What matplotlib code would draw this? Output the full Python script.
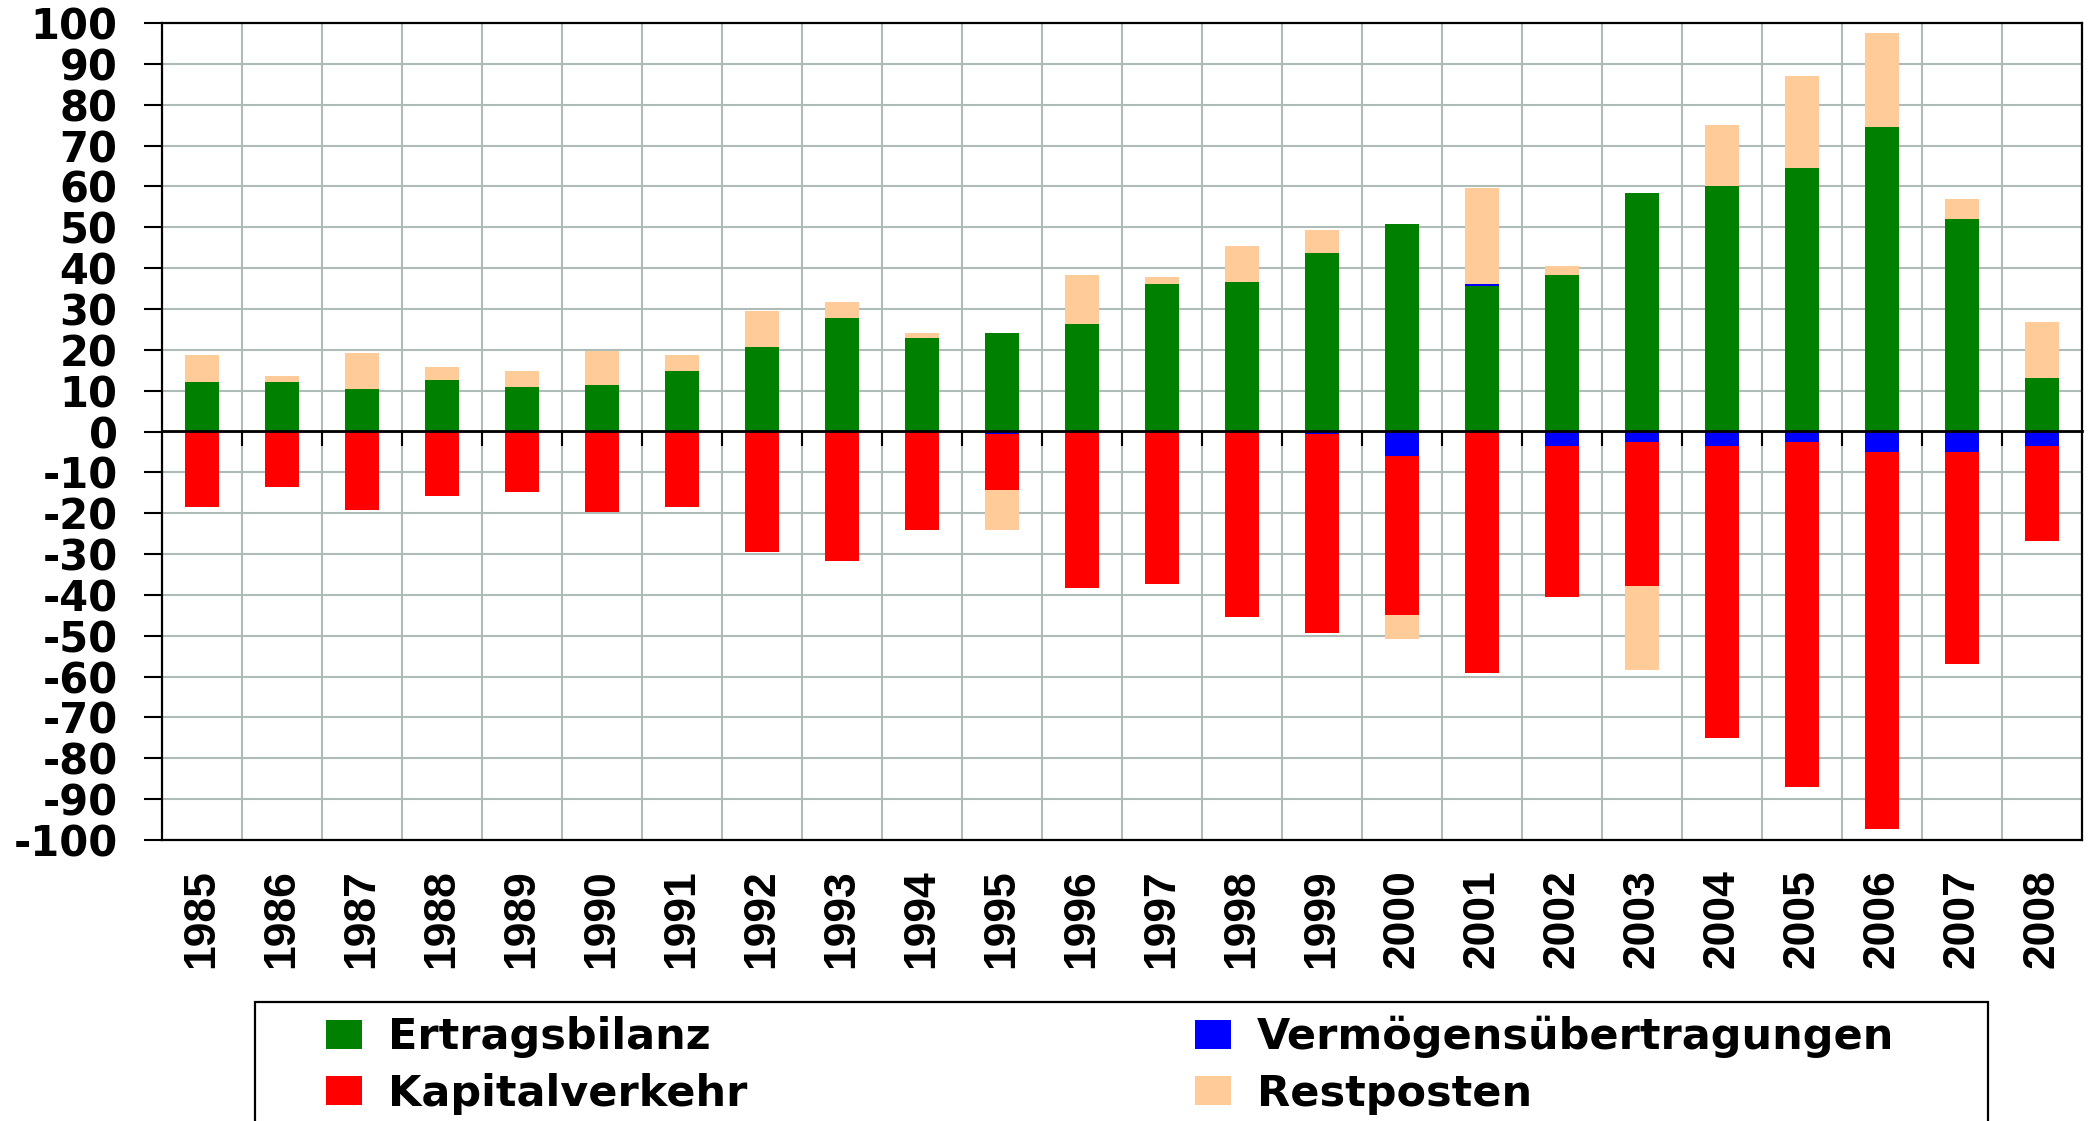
import matplotlib
matplotlib.use("Agg")
import matplotlib.pyplot as plt
from matplotlib.patches import Patch, Rectangle
import numpy as np

plt.rcParams["font.family"] = ["Liberation Sans", "DejaVu Sans"]
plt.rcParams["font.weight"] = "bold"

years = [str(y) for y in range(1985, 2009)]

# Mrd. CHF, Werte
ertragsbilanz = [12.2, 12.0, 10.5, 12.5, 11.0, 11.5, 14.7, 20.6, 27.9, 23.0, 24.2, 26.4,
                 36.0, 36.5, 43.8, 50.9, 35.5, 38.4, 58.5, 60.2, 64.6, 74.6, 52.1, 13.2]
vermoegen = [0, 0, 0, 0, 0, 0, 0, 0, 0, 0, -0.7, 0,
             0, 0, -0.7, -6.0, 0.5, -3.6, -2.6, -3.6, -2.6, -5.1, -5.1, -3.6]
kapitalverkehr = [-18.6, -13.7, -19.1, -15.7, -14.7, -19.6, -18.6, -29.6, -31.6, -24.0, -13.7, -38.4,
                  -37.4, -45.5, -48.7, -38.8, -59.2, -36.8, -35.1, -71.5, -84.5, -92.3, -51.7, -23.1]
restposten = [6.6, 1.7, 8.6, 3.2, 3.7, 8.1, 4.1, 9.0, 3.7, 1.2, -9.6, 12.0,
              1.7, 9.0, 5.6, -6.1, 23.5, 2.2, -20.6, 14.9, 22.5, 23.0, 4.7, 13.5]

y_ticks = list(range(-100, 101, 10))

series = [
    ("Ertragsbilanz", ertragsbilanz, "#008000"),
    ("Vermögensübertragungen", vermoegen, "#0000ff"),
    ("Kapitalverkehr", kapitalverkehr, "#ff0000"),
    ("Restposten", restposten, "#ffcc99"),
]

W, H = 2090, 1121
fig = plt.figure(figsize=(W / 100, H / 100), dpi=100)
ax = fig.add_axes([162 / W, 1 - 840 / H, (2082 - 162) / W, (840 - 23) / H])

x = np.arange(len(years))
pos_bottom = np.zeros(len(years))
neg_bottom = np.zeros(len(years))
for name, vals, color in series:
    v = np.array(vals, dtype=float)
    bottom = np.where(v >= 0, pos_bottom, neg_bottom)
    ax.bar(x, v, 0.42, bottom=bottom, color=color, zorder=3, linewidth=0)
    pos_bottom += np.clip(v, 0, None)
    neg_bottom += np.clip(v, None, 0)

grid_color = "#adbcb6"
ax.set_xlim(-0.5, len(years) - 0.5)
ax.set_ylim(-100, 100)
ax.set_yticks(y_ticks, [str(t) for t in y_ticks])
for lbl in ax.get_yticklabels():
    lbl.set_family("DejaVu Sans")
ax.set_xticks(x, years, rotation=90)
ax.set_xticks(x[:-1] + 0.5, minor=True)
ax.grid(True, which="major", axis="y", color=grid_color, linewidth=1.5, zorder=0)
ax.grid(True, which="minor", axis="x", color=grid_color, linewidth=1.5, zorder=0)
ax.set_axisbelow(True)

ax.tick_params(axis="y", length=13, width=1.5, pad=19, labelsize=30)
ax.tick_params(axis="x", which="major", length=0, pad=21, labelsize=32)
ax.tick_params(axis="x", which="minor", length=0)
for s in ax.spines.values():
    s.set_linewidth(1.6)
    s.set_color("black")

# Nulllinie mit Teilstrichen
zero = ax.secondary_xaxis(0.5)
zero.set_zorder(10)
zero.set_xticks(x[:-1] + 0.5, [""] * (len(years) - 1))
zero.tick_params(direction="in", length=11, width=1.5, color="black")
zero.spines["top"].set_linewidth(2)
zero.spines["top"].set_color("black")

handles = [Patch(facecolor=c, edgecolor="none") for _, _, c in series]
labels = [n for n, _, _ in series]
order = [0, 2, 1, 3]
leg = fig.legend([handles[i] for i in order], [labels[i] for i in order],
                 loc="upper left", ncol=2, bbox_to_anchor=(326 / W, 1 - 1016 / H),
                 prop={"family": "DejaVu Sans", "weight": "bold", "size": 31},
                 frameon=False, handlelength=0.84, handleheight=0.67, handletextpad=0.6,
                 labelspacing=0.33, columnspacing=10.4, borderpad=0, borderaxespad=0)

# Rahmen der Legende (unten abgeschnitten wie im Original)
fig.add_artist(Rectangle((255 / W, -0.02), (1988 - 255) / W, (H - 1002) / H + 0.02,
                         transform=fig.transFigure, fill=False, edgecolor="black", linewidth=1.6))

fig.savefig("out.png", dpi=100)
